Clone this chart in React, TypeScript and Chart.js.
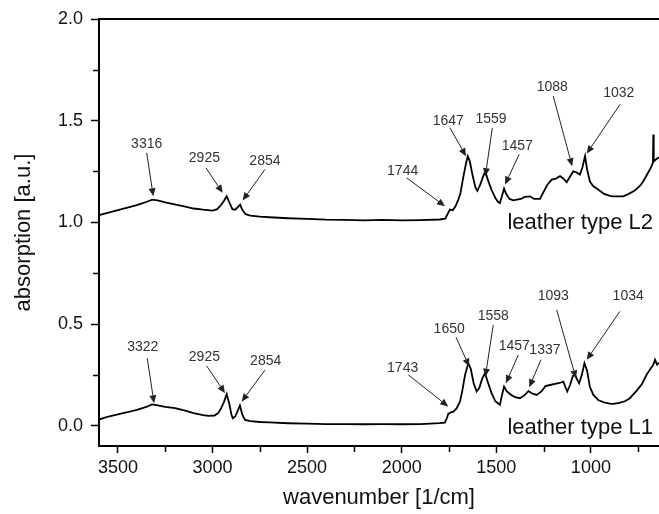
import React, { useEffect, useRef } from "react";
import { Chart, registerables } from "chart.js";

Chart.register(...registerables);

const FONT = '"Liberation Sans", Arial, Helvetica, sans-serif';

// Axis ranges and ticks
const xRange = [640, 3600];
const yRange = [-0.1, 2.0];
const xMajorTicks = [3500, 3000, 2500, 2000, 1500, 1000];
const xMinorTicks = [3250, 2750, 2250, 1750, 1250, 750];
const yMajorTicks = [0.0, 0.5, 1.0, 1.5, 2.0];
const yMinorTicks = [0.25, 0.75, 1.25, 1.75];

// Spectrum of leather type L2 (upper curve)
const l2Wavenumbers = [
  3600, 3550, 3500, 3450, 3400, 3350, 3318, 3290, 3250, 3200, 3150, 3100, 3050, 3000,
  2975, 2955, 2940, 2925, 2912, 2895, 2880, 2866, 2854, 2842, 2825, 2800, 2750, 2700,
  2600, 2500, 2400, 2300, 2200, 2100, 2000, 1900, 1800, 1770, 1755, 1745, 1730, 1715,
  1701, 1690, 1675, 1660, 1651, 1640, 1625, 1610, 1600, 1585, 1570, 1558, 1545, 1525,
  1505, 1490, 1481, 1470, 1459, 1448, 1430, 1410, 1392, 1370, 1350, 1322, 1300, 1269,
  1250, 1230, 1207, 1185, 1163, 1145, 1128, 1110, 1093, 1075, 1058, 1045, 1031, 1020,
  1005, 987, 960, 930, 900, 882, 850, 829, 800, 770, 740, 723, 700, 685, 672, 670, 668,
  655, 640,
];
const l2Absorption = [
  1.035, 1.048, 1.06, 1.072, 1.085, 1.1, 1.112, 1.108, 1.098, 1.088, 1.078, 1.068, 1.062, 1.058,
  1.065, 1.085, 1.105, 1.128, 1.1, 1.065, 1.062, 1.075, 1.087, 1.06, 1.04, 1.033, 1.028, 1.025,
  1.02, 1.017, 1.013, 1.012, 1.01, 1.012, 1.01, 1.011, 1.014, 1.018, 1.045, 1.063, 1.06, 1.08,
  1.112, 1.14, 1.22, 1.29, 1.325, 1.3, 1.23, 1.17, 1.155, 1.185, 1.225, 1.251, 1.21, 1.16,
  1.12, 1.1, 1.095, 1.13, 1.166, 1.14, 1.115, 1.108, 1.112, 1.115, 1.125, 1.128, 1.115, 1.115,
  1.15, 1.185, 1.21, 1.215, 1.227, 1.215, 1.197, 1.225, 1.251, 1.245, 1.235, 1.27, 1.325, 1.26,
  1.2, 1.177, 1.16, 1.14, 1.13, 1.128, 1.128, 1.128, 1.14, 1.155, 1.18, 1.202, 1.24, 1.265, 1.293, 1.432, 1.3,
  1.31, 1.32,
];

// Spectrum of leather type L1 (lower curve)
const l1Wavenumbers = [
  3600, 3550, 3500, 3450, 3400, 3350, 3320, 3290, 3250, 3198, 3150, 3100, 3050, 3022,
  2990, 2970, 2955, 2940, 2925, 2912, 2900, 2893, 2880, 2866, 2855, 2843, 2828, 2800,
  2750, 2700, 2600, 2500, 2400, 2300, 2200, 2100, 2000, 1900, 1800, 1772, 1760, 1754,
  1740, 1727, 1710, 1692, 1680, 1665, 1648, 1635, 1620, 1604, 1590, 1575, 1560, 1545,
  1525, 1505, 1481, 1470, 1459, 1445, 1420, 1400, 1375, 1350, 1330, 1310, 1287, 1260,
  1240, 1216, 1190, 1165, 1146, 1125, 1110, 1095, 1084, 1072, 1062, 1048, 1034, 1020,
  1005, 987, 960, 930, 900, 882, 850, 820, 794, 760, 730, 706, 685, 670, 661, 650, 640,
];
const l1Absorption = [
  0.03, 0.045, 0.056, 0.066, 0.078, 0.092, 0.105, 0.1, 0.092, 0.086, 0.075, 0.062, 0.052, 0.048,
  0.05, 0.062, 0.085, 0.115, 0.155, 0.11, 0.055, 0.036, 0.045, 0.075, 0.099, 0.055, 0.028, 0.022,
  0.018, 0.016, 0.012, 0.01, 0.008, 0.008, 0.007, 0.008, 0.007, 0.008, 0.012, 0.015, 0.04, 0.058,
  0.065, 0.069, 0.085, 0.118, 0.17, 0.25, 0.307, 0.28, 0.21, 0.168, 0.185, 0.23, 0.258, 0.215,
  0.16, 0.12, 0.102, 0.15, 0.192, 0.17, 0.15, 0.14, 0.135, 0.15, 0.17, 0.158, 0.151, 0.17,
  0.195, 0.2, 0.205, 0.21, 0.217, 0.168, 0.2, 0.245, 0.25, 0.225, 0.209, 0.25, 0.307, 0.27,
  0.19, 0.151, 0.125, 0.115, 0.108, 0.107, 0.112, 0.12, 0.135, 0.17, 0.205, 0.25, 0.28, 0.3, 0.324, 0.3, 0.31,
];

// Peak annotations: [label, textW, textV, tailW, tailV, tipW, tipV]
const l2Peaks: [string, number, number, number, number, number, number][] = [
  ["3316", 3348, 1.383, 3348, 1.342, 3313, 1.128],
  ["2925", 3043, 1.317, 3035, 1.268, 2946, 1.145],
  ["2854", 2723, 1.3, 2723, 1.26, 2841, 1.107],
  ["1744", 1995, 1.251, 1974, 1.219, 1771, 1.079],
  ["1647", 1754, 1.498, 1745, 1.465, 1660, 1.325],
  ["1559", 1528, 1.509, 1521, 1.465, 1558, 1.227],
  ["1457", 1389, 1.374, 1379, 1.334, 1454, 1.186],
  ["1088", 1204, 1.665, 1199, 1.621, 1099, 1.276],
  ["1032", 853, 1.633, 846, 1.58, 1022, 1.338],
];
const l1Peaks: [string, number, number, number, number, number, number][] = [
  ["3322", 3369, 0.386, 3345, 0.332, 3309, 0.11],
  ["2925", 3043, 0.337, 3031, 0.294, 2934, 0.16],
  ["2854", 2719, 0.317, 2723, 0.273, 2846, 0.118],
  ["1743", 1995, 0.283, 1965, 0.25, 1754, 0.094],
  ["1650", 1749, 0.476, 1713, 0.435, 1643, 0.291],
  ["1558", 1516, 0.54, 1516, 0.496, 1558, 0.241],
  ["1457", 1405, 0.393, 1384, 0.348, 1449, 0.209],
  ["1337", 1243, 0.369, 1264, 0.324, 1326, 0.189],
  ["1093", 1199, 0.639, 1181, 0.57, 1079, 0.233],
  ["1034", 803, 0.635, 847, 0.562, 1022, 0.324],
];

const seriesNames = ["leather type L2", "leather type L1"];
const seriesLabelW = [672, 672];
const seriesLabelV = [0.997, -0.013];

function drawArrow(ctx: CanvasRenderingContext2D, x1: number, y1: number, x2: number, y2: number) {
  const ang = Math.atan2(y2 - y1, x2 - x1);
  const L = 8;
  const W = 3.5;
  const c = Math.cos(ang);
  const s = Math.sin(ang);
  const bx = x2 - L * c;
  const by = y2 - L * s;
  ctx.beginPath();
  ctx.moveTo(x1, y1);
  ctx.lineTo(bx, by);
  ctx.stroke();
  ctx.beginPath();
  ctx.moveTo(x2, y2);
  ctx.lineTo(bx - W * s, by + W * c);
  ctx.lineTo(bx + W * s, by - W * c);
  ctx.closePath();
  ctx.fill();
}

const decorPlugin = {
  id: "decor",
  afterDatasetsDraw(chart: any) {
    const { ctx, chartArea: a, scales } = chart;
    const x = scales.x;
    const y = scales.y;
    ctx.save();
    // top frame line
    ctx.strokeStyle = "#000";
    ctx.lineWidth = 2;
    ctx.beginPath();
    ctx.moveTo(a.left - 1, a.top);
    ctx.lineTo(a.right, a.top);
    ctx.stroke();
    // minor ticks
    ctx.lineWidth = 1.5;
    for (const v of xMinorTicks) {
      const px = Math.round(x.getPixelForValue(v)) + 0.5;
      ctx.beginPath();
      ctx.moveTo(px, a.bottom);
      ctx.lineTo(px, a.bottom + 6);
      ctx.stroke();
    }
    for (const v of yMinorTicks) {
      const py = Math.round(y.getPixelForValue(v)) + 0.5;
      ctx.beginPath();
      ctx.moveTo(a.left, py);
      ctx.lineTo(a.left - 6, py);
      ctx.stroke();
    }
    // peak annotations
    ctx.strokeStyle = "#222";
    ctx.fillStyle = "#222";
    ctx.lineWidth = 1;
    ctx.font = `14px ${FONT}`;
    ctx.textAlign = "center";
    ctx.textBaseline = "middle";
    for (const p of [...l2Peaks, ...l1Peaks]) {
      const [label, tw, tv, aw, av, bw, bv] = p;
      ctx.fillStyle = "#333";
      ctx.fillText(label, x.getPixelForValue(tw), y.getPixelForValue(tv));
      ctx.fillStyle = "#222";
      drawArrow(
        ctx,
        x.getPixelForValue(aw),
        y.getPixelForValue(av),
        x.getPixelForValue(bw),
        y.getPixelForValue(bv)
      );
    }
    // series labels
    ctx.fillStyle = "#111";
    ctx.font = `22px ${FONT}`;
    ctx.textAlign = "right";
    for (let i = 0; i < seriesNames.length; i++) {
      ctx.fillText(seriesNames[i], x.getPixelForValue(seriesLabelW[i]), y.getPixelForValue(seriesLabelV[i]));
    }
    ctx.restore();
  },
};

export default function App() {
  const canvasRef = useRef<HTMLCanvasElement | null>(null);

  useEffect(() => {
    const canvas = canvasRef.current;
    if (!canvas) return;
    const chart = new Chart(canvas, {
      type: "line",
      data: {
        datasets: [
          {
            label: seriesNames[0],
            data: l2Wavenumbers.map((w, i) => ({ x: w, y: l2Absorption[i] })),
            borderColor: "#000",
            borderWidth: 1.8,
            pointRadius: 0,
            tension: 0,
            fill: false,
          },
          {
            label: seriesNames[1],
            data: l1Wavenumbers.map((w, i) => ({ x: w, y: l1Absorption[i] })),
            borderColor: "#000",
            borderWidth: 1.8,
            pointRadius: 0,
            tension: 0,
            fill: false,
          },
        ],
      },
      options: {
        animation: false,
        responsive: false,
        layout: { padding: { top: 19, left: 0, right: 0, bottom: 0 } },
        plugins: { legend: { display: false }, tooltip: { enabled: false } },
        scales: {
          x: {
            type: "linear",
            reverse: true,
            min: xRange[0],
            max: xRange[1],
            afterBuildTicks: (s: any) => {
              s.ticks = xMajorTicks.map((v) => ({ value: v }));
            },
            afterFit: (s: any) => {
              s.height = 68;
            },
            grid: { drawOnChartArea: false, drawTicks: true, tickLength: 7, tickWidth: 1.5, tickColor: "#000" },
            border: { display: true, color: "#000", width: 2 },
            ticks: {
              color: "#111",
              font: { size: 18, family: FONT },
              padding: 4,
              maxRotation: 0,
              autoSkip: false,
              callback: (v: any) => String(v),
            },
            title: {
              display: true,
              text: "wavenumber [1/cm]",
              color: "#111",
              font: { size: 22, family: FONT },
              padding: { top: 0, bottom: 3 },
            },
          },
          y: {
            type: "linear",
            min: yRange[0],
            max: yRange[1],
            afterBuildTicks: (s: any) => {
              s.ticks = yMajorTicks.map((v) => ({ value: v }));
            },
            afterFit: (s: any) => {
              s.width = 99;
            },
            grid: { drawOnChartArea: false, drawTicks: true, tickLength: 8, tickWidth: 1.5, tickColor: "#000" },
            border: { display: true, color: "#000", width: 2 },
            ticks: {
              color: "#111",
              font: { size: 18, family: FONT },
              padding: 8,
              autoSkip: false,
              callback: (v: any) => Number(v).toFixed(1),
            },
            title: {
              display: true,
              text: "absorption [a.u.]",
              color: "#111",
              font: { size: 22, family: FONT },
              padding: { top: 11, bottom: 0 },
            },
          },
        },
      },
      plugins: [decorPlugin],
    });
    return () => chart.destroy();
  }, []);

  return (
    <div style={{ position: "fixed", left: 0, top: 0, width: 659, height: 514, background: "#fff" }}>
      <canvas ref={canvasRef} width={659} height={514} style={{ display: "block" }} />
    </div>
  );
}
